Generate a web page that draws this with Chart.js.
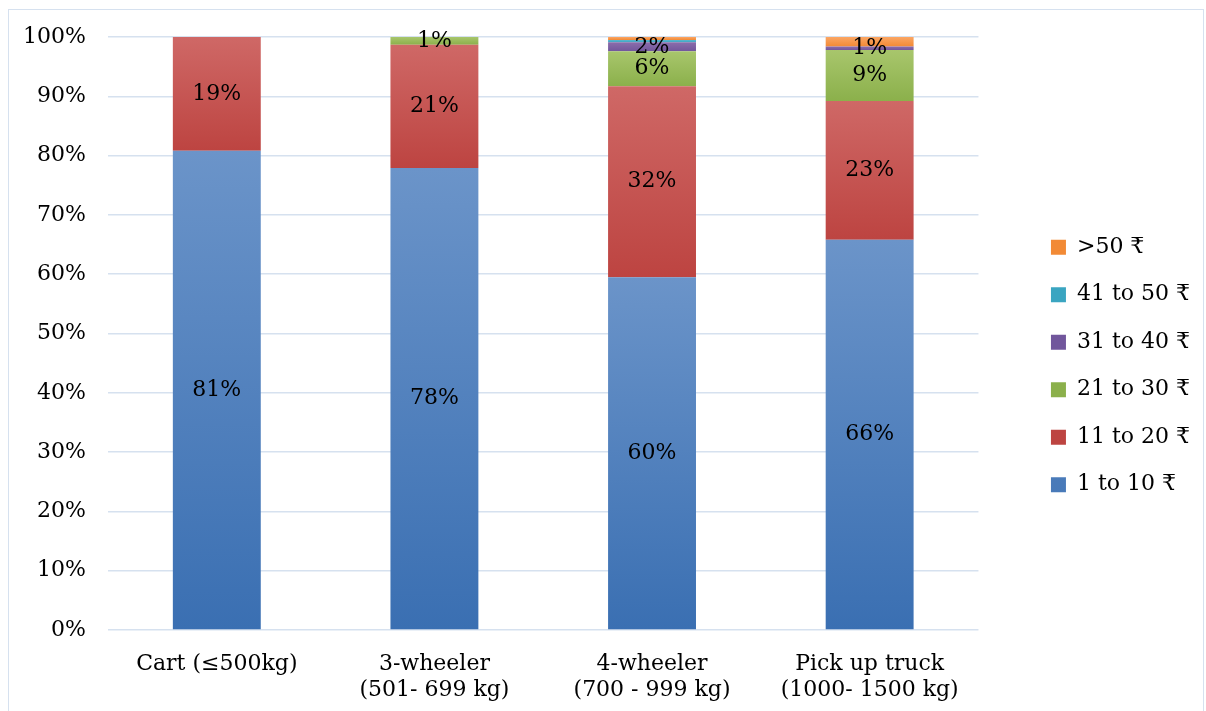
<!DOCTYPE html>
<html>
<head>
<meta charset="utf-8">
<script src="https://cdn.jsdelivr.net/npm/chart.js@4.4.1/dist/chart.umd.min.js"></script>
<style>
  html, body { margin: 0; padding: 0; background: #fff; overflow: hidden; }
  #frame { position: absolute; left: 8px; top: 9px; width: 1194px; height: 720px; border: 1px solid #d6e1ef; }
  #chart { position: absolute; left: 0; top: 0; }
</style>
</head>
<body>
<div id="frame"></div>
<canvas id="chart" width="1206" height="711"></canvas>
<script>
var categories = [
	"Cart (≤500kg)",
	["3-wheeler", "(501- 699 kg)"],
	["4-wheeler", "(700 - 999 kg)"],
	["Pick up truck", "(1000- 1500 kg)"]
];
var seriesNames = ["1 to 10 ₹", "11 to 20 ₹", "21 to 30 ₹", "31 to 40 ₹", "41 to 50 ₹", ">50 ₹"];
var s1to10  = [80.8, 77.9, 59.5, 65.8];
var s11to20 = [19.2, 20.8, 32.2, 23.4];
var s21to30 = [0, 1.3, 5.9, 8.6];
var s31to40 = [0, 0, 1.5, 0.6];
var s41to50 = [0, 0, 0.4, 0];
var sOver50 = [0, 0, 0.5, 1.6];
var yTicks = [0, 10, 20, 30, 40, 50, 60, 70, 80, 90, 100];
// series that get a value label inside the bar
var labelled = [true, true, true, true, false, false];

var seriesValues = [s1to10, s11to20, s21to30, s31to40, s41to50, sOver50];
// top / bottom shade of each series
var shades = [
	["#6b94c9", "#3a6fb2"],
	["#cf6866", "#bd4441"],
	["#a8c66c", "#8bb04b"],
	["#8b6dab", "#71569c"],
	["#5db7cf", "#3aa5c1"],
	["#fba664", "#f28a35"]
];

var FONT = "'DejaVu Serif', 'Liberation Serif', serif";
var FSIZE = 22;

function segGradient(ctx) {
	var chart = ctx.chart;
	var ds = ctx.datasetIndex, i = ctx.dataIndex;
	var y = chart.scales && chart.scales.y;
	if (ctx.type !== 'data' || !y || y.top === undefined) return shades[ds][1];
	var start = 0;
	for (var k = 0; k < ds; k++) start += seriesValues[k][i];
	var end = start + seriesValues[ds][i];
	var top = y.getPixelForValue(end), bottom = y.getPixelForValue(start);
	if (!isFinite(top) || !isFinite(bottom) || top === bottom) return shades[ds][1];
	var g = chart.ctx.createLinearGradient(0, top, 0, bottom);
	g.addColorStop(0, shades[ds][0]);
	g.addColorStop(1, shades[ds][1]);
	return g;
}

var datasets = seriesValues.map(function(vals, k) {
	return {
		label: seriesNames[k],
		data: vals,
		backgroundColor: segGradient,
		borderWidth: 0,
		barPercentage: 0.404,
		categoryPercentage: 1
	};
});

var valueLabels = {
	id: 'valueLabels',
	afterDatasetsDraw: function(chart) {
		var c = chart.ctx;
		c.save();
		c.font = FSIZE + "px " + FONT;
		c.fillStyle = "#000";
		c.textAlign = "center";
		c.textBaseline = "middle";
		chart.data.datasets.forEach(function(ds, k) {
			if (!labelled[k]) return;
			chart.getDatasetMeta(k).data.forEach(function(bar, i) {
				var v = ds.data[i];
				if (!v) return;
				c.fillText(Math.round(v) + "%", bar.x, (bar.y + bar.base) / 2);
			});
		});
		c.restore();
	}
};

// nudge the legend block to where it sits in the original
var legendShift = {
	id: 'legendShift',
	afterLayout: function(chart) {
		var lg = chart.legend;
		if (!lg) return;
		var dx = 47, dy = -8;
		lg.left += dx; lg.right += dx;
		lg.top += dy; lg.bottom += dy;
	}
};

window.onload = function() {
	new Chart(document.getElementById("chart"), {
		type: 'bar',
		data: { labels: categories, datasets: datasets },
		plugins: [valueLabels, legendShift],
		options: {
			responsive: false,
			animation: false,
			maintainAspectRatio: false,
			layout: { padding: { top: 37, left: 0, right: 53, bottom: 0 } },
			scales: {
				x: {
					stacked: true,
					grid: { display: false },
					border: { display: false },
					ticks: { color: "#000", font: { family: FONT, size: FSIZE }, padding: 13, maxRotation: 0, autoSkip: false },
					afterFit: function(s) { s.height = 81; }
				},
				y: {
					stacked: true,
					min: 0,
					max: 100,
					afterBuildTicks: function(s) { s.ticks = yTicks.map(function(v) { return { value: v }; }); },
					grid: { color: "#d6e1ef", lineWidth: 1.5, drawTicks: false },
					border: { display: false },
					ticks: { color: "#000", font: { family: FONT, size: FSIZE }, padding: 22, callback: function(v) { return v + "%"; } },
					afterFit: function(s) { s.width = 108; }
				}
			},
			plugins: {
				legend: {
					position: 'right',
					reverse: true,
					labels: {
						color: "#000",
						font: { family: FONT, size: FSIZE },
						boxWidth: 15,
						boxHeight: 15,
						padding: 25.5
					}
				},
				tooltip: { enabled: false }
			}
		}
	});
};
</script>
</body>
</html>
